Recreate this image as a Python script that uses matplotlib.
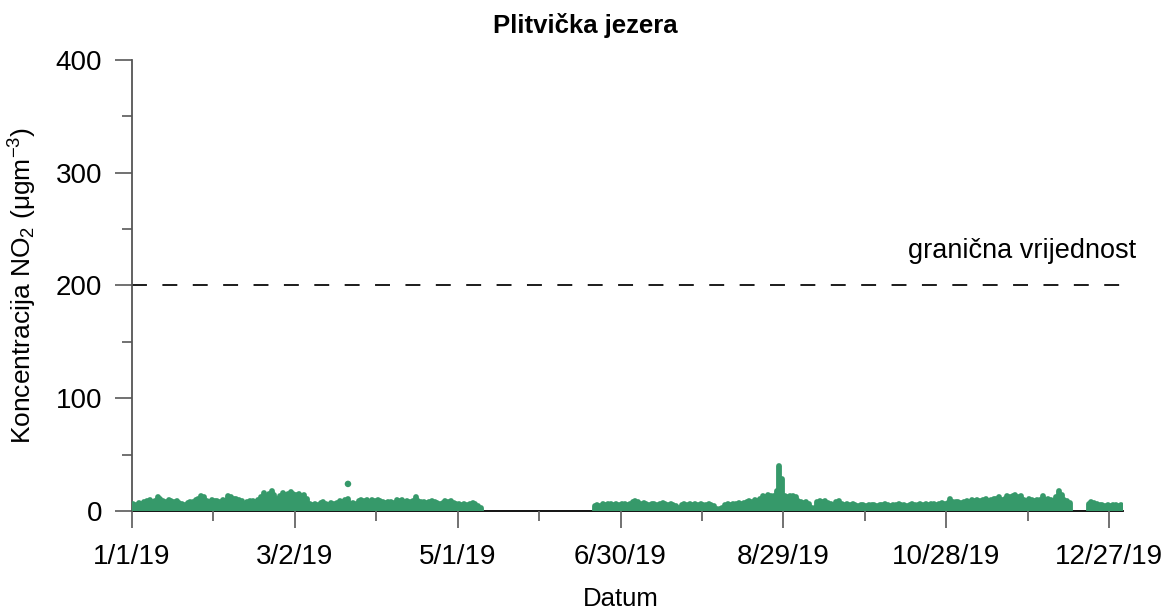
import numpy as np
import matplotlib
matplotlib.use('Agg')
import matplotlib.pyplot as plt

plt.rcParams['font.family'] = ['Liberation Sans', 'DejaVu Sans']
plt.rcParams['mathtext.fontset'] = 'custom'
plt.rcParams['mathtext.rm'] = 'Liberation Sans'
plt.rcParams['mathtext.it'] = 'Liberation Sans'

# Dnevni maksimumi NO2 (ugm-3) procitani sa slike, None = nema mjerenja
jan = [6, 5, 7, 6, 8, 9, 10, 8, 9, 12, 11, 9, 8, 10, 9, 8, 9, 7, 6, 5, 7, 8, 8, 10, 11, 13, 12, 9, 8, 10, 9]
feb = [9, 8, 10, 9, 13, 12, 11, 11, 10, 9, 6, 8, 9, 9, 8, 10, 12, 16, 12, 15, 18, 14, 11, 13, 16, 14, 15, 17]
mar = [15, 14, 15, 13, 14, 11, 6, 5, 6, 5, 7, 8, 6, 5, 7, 6, 7, 9, 8, 10, 11, 6, 7, 6, 9, 10, 9, 10, 8, 10, 9]
apr = [10, 9, 8, 7, 8, 8, 7, 10, 9, 10, 8, 9, 8, 9, 12, 9, 8, 8, 7, 8, 9, 8, 7, 6, 7, 9, 8, 9, 7, 6]
may = [6, 5, 6, 5, 6, 7, 6, 4, 3] + [None] * 22
jun = [None] * 19 + [4, 5, 4, 6, 5, 6, 6, 5, 6, 5, 6]
jul = [6, 5, 6, 8, 9, 8, 6, 7, 6, 5, 6, 6, 5, 6, 7, 6, 5, 6, 5, 4, 3, 5, 6, 5, 6, 5, 6, 5, 6, 5, 5]
aug = [6, 5, 4, 2, 2, 3, 5, 6, 5, 6, 6, 7, 6, 7, 8, 9, 8, 10, 9, 11, 13, 12, 14, 13, 13, 18, 40, 28, 13, 12, 13]
sep = [13, 12, 9, 8, 7, 8, 6, 3, 3, 8, 9, 8, 9, 7, 6, 5, 8, 9, 6, 5, 6, 5, 6, 5, 4, 5, 5, 4, 5, 5]
oct_ = [5, 4, 5, 5, 6, 5, 4, 5, 5, 6, 5, 5, 4, 5, 6, 5, 5, 6, 5, 6, 5, 6, 6, 5, 6, 7, 6, 7, 11, 8, 8]
nov = [8, 7, 8, 9, 8, 10, 9, 10, 9, 10, 11, 9, 10, 11, 11, 12, 10, 11, 13, 12, 13, 14, 12, 13, 10, 9, 11, 10, 9, 10]
dec = [10, 13, 10, 11, 10, 9, 12, 18, 14, 10, 9, 7] + [None] * 6 + [6, 8, 7, 6, 5, 5, 4, 5, 4, 5, 5, 4, 5]

daily_min = 0.0

# pojedinacne izdvojene vrijednosti
outlier_dates = ['2019-03-21T14']
outlier_values = [24]

limit_value = 200
tick_labels = ['1/1/19', '3/2/19', '5/1/19', '6/30/19', '8/29/19', '10/28/19', '12/27/19']

green = '#36996a'

daily_max = np.array([np.nan if v is None else v for v in
                      jan + feb + mar + apr + may + jun + jul + aug + sep + oct_ + nov + dec], dtype=float)
days = np.arange('2019-01-01', '2020-01-01', dtype='datetime64[D]')
x = days.astype('datetime64[h]') + np.timedelta64(12, 'h')
ok = ~np.isnan(daily_max)

fig = plt.figure(figsize=(11.71, 6.14), dpi=100)
ax = fig.add_axes([0.1127, 0.1678, 0.8460, 0.7345])

ax.vlines(x[ok], daily_min, daily_max[ok], color=green, linewidth=4.2, capstyle='round', zorder=3)
ax.scatter(np.array(outlier_dates, dtype='datetime64[h]'), outlier_values, s=22, color=green,
           edgecolors='none', zorder=3)

ax.axhline(limit_value, color='black', linestyle=(0, (8.6, 8.9)), linewidth=1.25, zorder=2)
ax.text(np.datetime64('2020-01-06'), 231, 'granična vrijednost', ha='right',
        va='center', fontsize=19.5)

ax.set_xlim(np.datetime64('2019-01-01'), np.datetime64('2020-01-01'))
ax.set_ylim(0, 400)

major = np.arange(np.datetime64('2019-01-01'), np.datetime64('2020-01-01'), np.timedelta64(60, 'D'))
minor = major[:-1] + np.timedelta64(30, 'D')
ax.set_xticks(major)
ax.set_xticklabels(tick_labels)
ax.set_xticks(minor, minor=True)
ax.set_yticks([0, 100, 200, 300, 400])
ax.set_yticks([50, 150, 250, 350], minor=True)

ax.tick_params(axis='both', which='major', labelsize=20, length=12.5, width=1.3, color='#666666',
               direction='out')
ax.tick_params(axis='both', which='minor', length=7, width=1.3, color='#666666', direction='out')
ax.tick_params(axis='x', pad=11)
ax.tick_params(axis='y', pad=9)

for s in ['top', 'right']:
    ax.spines[s].set_visible(False)
ax.spines['left'].set_color('#555555')
ax.spines['left'].set_linewidth(1.3)
ax.spines['bottom'].set_color('black')
ax.spines['bottom'].set_linewidth(1.3)
ax.spines['bottom'].set_zorder(1)

ax.set_xlabel('Datum', fontsize=18.5)
ax.xaxis.set_label_coords(0.493, -0.168)
ax.set_ylabel('Koncentracija NO$_2$ (μgm$^{-3}$)', fontsize=19)
ax.yaxis.set_label_coords(-0.094, 0.5)
fig.text(0.5, 0.958, 'Plitvička jezera', ha='center', va='center', fontsize=18.5, fontweight='bold')

fig.savefig('out.png', dpi=100)
